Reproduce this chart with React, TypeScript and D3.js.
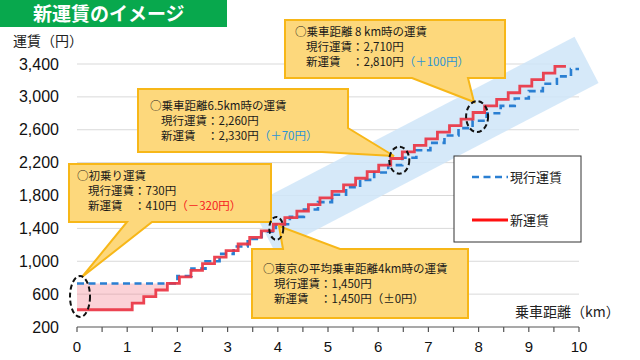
import React from "react";
import * as d3 from "d3";

// axis ticks
const distanceTicks = [0, 1, 2, 3, 4, 5, 6, 7, 8, 9, 10];
const fareTicks = [200, 600, 1000, 1400, 1800, 2200, 2600, 3000, 3400];

// 現行運賃 (step starts, km) and fare after each step
const currentKm = [0, 2.0, 2.28, 2.56, 2.84, 3.12, 3.4, 3.68, 3.96, 4.24, 4.52, 4.8, 5.08, 5.36, 5.64, 5.92, 6.2, 6.48, 6.76, 7.04, 7.32, 7.6, 7.88, 8.16, 8.44, 8.72, 9.0, 9.28, 9.56, 9.84, 10.0];
const currentFare = [730, 820, 910, 1000, 1090, 1180, 1270, 1360, 1450, 1540, 1630, 1720, 1810, 1900, 1990, 2080, 2170, 2260, 2350, 2440, 2530, 2620, 2710, 2800, 2890, 2980, 3070, 3160, 3250, 3340, 3340];

// 新運賃
const newKm = [0, 1.1, 1.33, 1.57, 1.8, 2.04, 2.27, 2.5, 2.74, 2.97, 3.21, 3.44, 3.67, 3.91, 4.14, 4.38, 4.61, 4.84, 5.08, 5.31, 5.55, 5.78, 6.01, 6.25, 6.48, 6.72, 6.95, 7.18, 7.42, 7.65, 7.89, 8.12, 8.36, 8.59, 8.82, 9.06, 9.29, 9.52, 9.74];
const newFare = [410, 490, 570, 650, 730, 810, 890, 970, 1050, 1130, 1210, 1290, 1370, 1450, 1530, 1610, 1690, 1770, 1850, 1930, 2010, 2090, 2170, 2250, 2330, 2410, 2490, 2570, 2650, 2730, 2810, 2890, 2970, 3050, 3130, 3210, 3290, 3370, 3370];

// callouts
const noteTitles = ["○初乗り運賃", "○東京の平均乗車距離4km時の運賃", "○乗車距離6.5km時の運賃", "○乗車距離 8 km時の運賃"];
const noteCurrent = ["730円", "1,450円", "2,260円", "2,710円"];
const noteNew = ["410円", "1,450円", "2,330円", "2,810円"];
const noteDiff = ["（－320円）", "（±0円）", "（＋70円）", "（＋100円）"];
const noteKm = [0.06, 3.97, 6.42, 7.97];
const noteFare = [570, 1400, 2230, 2760];

// trend band (km, fare) of the two ends of its centre line
const bandKm = [3.7, 10.15];
const bandFare = [1400, 3450];

const legendLabels = ["現行運賃", "新運賃"];

const W = 640;
const H = 360;
const JP = "'Noto Sans CJK JP', 'Liberation Sans', sans-serif";
const NUM = "'Liberation Sans', Arial, sans-serif";
const BLUE = "#2a7fd2";
const RED = "#ea3443";
const BOX_FILL = "#fdd87c";
const BOX_STROKE = "#f7b718";

type Box = { x: number; y: number; w: number; h: number; tx: number; ty: number; tail: { side: string; a: number; b: number; tipX: number; tipY: number }; diffColor: string; rx: number; ry: number };

const boxes: Box[] = [
  { x: 69, y: 164, w: 202, h: 58, tx: 8, ty: 16, tail: { side: "bottom", a: 127, b: 152, tipX: 82, tipY: 277 }, diffColor: "#f52020", rx: 10, ry: 20.5 },
  { x: 252, y: 249, w: 216, h: 69, tx: 11, ty: 24, tail: { side: "top", a: 283, b: 340, tipX: 279, tipY: 226 }, diffColor: "#1a1a1a", rx: 7, ry: 11.5 },
  { x: 138, y: 89, w: 210, h: 63, tx: 12, ty: 21, tail: { side: "corner", a: 128, b: 322, tipX: 394, tipY: 156 }, diffColor: "#2b93d6", rx: 10, ry: 13.5 },
  { x: 285, y: 20, w: 220, h: 58, tx: 10, ty: 16, tail: { side: "bottom", a: 412, b: 468, tipX: 474, tipY: 102 }, diffColor: "#2b93d6", rx: 11, ry: 15.5 },
];

function calloutPath(b: Box) {
  const x0 = b.x, y0 = b.y, x1 = b.x + b.w, y1 = b.y + b.h;
  const t = b.tail;
  if (t.side === "top") {
    return `M${x0},${y0}L${t.a},${y0}L${t.tipX},${t.tipY}L${t.b},${y0}L${x1},${y0}L${x1},${y1}L${x0},${y1}Z`;
  }
  if (t.side === "bottom") {
    return `M${x0},${y0}L${x1},${y0}L${x1},${y1}L${t.b},${y1}L${t.tipX},${t.tipY}L${t.a},${y1}L${x0},${y1}Z`;
  }
  // corner: from right edge (y=a) to bottom edge (x=b)
  return `M${x0},${y0}L${x1},${y0}L${x1},${t.a}L${t.tipX},${t.tipY}L${t.b},${y1}L${x0},${y1}Z`;
}

export default function App() {
  const x = d3.scaleLinear().domain([0, 10]).range([77, 579]);
  const y = d3.scaleLinear().domain([200, 3400]).range([327, 64]);

  const current = currentKm.map((k, i) => [k, currentFare[i]] as [number, number]);
  const fresh = newKm.map((k, i) => [k, newFare[i]] as [number, number]);

  const stepLine = d3
    .line<[number, number]>()
    .x((d) => x(d[0]))
    .y((d) => y(d[1]))
    .curve(d3.curveStepAfter);

  // pink area where the new fare is below the current base fare
  const base = currentFare[0];
  const lowPart = fresh.filter((d) => d[1] <= base);
  const gapArea = d3
    .area<[number, number]>()
    .x((d) => x(d[0]))
    .y0(y(base))
    .y1((d) => y(d[1]))
    .curve(d3.curveStepAfter);

  // band polygon
  const bx0 = x(bandKm[0]), by0 = y(bandFare[0]);
  const bx1 = x(bandKm[1]), by1 = y(bandFare[1]);
  const len = Math.hypot(bx1 - bx0, by1 - by0);
  const px = (-(by1 - by0) / len) * 26;
  const py = ((bx1 - bx0) / len) * 26;
  const bandPts = [
    [bx0 - px, by0 - py],
    [bx1 - px, by1 - py],
    [bx1 + px, by1 + py],
    [bx0 + px, by0 + py],
  ]
    .map((p) => p.join(","))
    .join(" ");

  const minorTicks = d3.range(0, 10.01, 0.5);
  const lineGap = 15;

  return (
    <div style={{ position: "absolute", left: 0, top: 0 }}>
      <svg width={W} height={H} style={{ display: "block", background: "#fff" }}>
        {/* title bar */}
        <rect x={0} y={0} width={227} height={27} fill="#08a84d" />
        <text x={33} y={21} fill="#fff" fontFamily={JP} fontWeight="bold" fontSize={19}>
          新運賃のイメージ
        </text>

        {/* y label */}
        <text x={13} y={46} fontFamily={JP} fontSize={14} fill="#222">
          運賃（円）
        </text>

        {/* grid */}
        {fareTicks.slice(1).map((t) => (
          <line key={t} x1={x(0)} x2={x(10)} y1={y(t)} y2={y(t)} stroke="#d9d9d9" strokeWidth={1} />
        ))}

        {/* band */}
        <polygon points={bandPts} fill="#cfe5f8" opacity={0.85} />

        {/* pink gap */}
        <path d={gapArea(lowPart) || ""} fill="#f47d8c" opacity={0.35} />

        {/* y tick labels */}
        {fareTicks.map((t) => (
          <text key={t} x={59} y={y(t) + 5.5} textAnchor="end" fontFamily={NUM} fontSize={16} fill="#111">
            {d3.format(",")(t)}
          </text>
        ))}

        {/* x axis */}
        <line x1={x(0)} x2={x(10)} y1={y(200)} y2={y(200)} stroke="#555" strokeWidth={1.2} />
        {minorTicks.map((t) => (
          <line key={t} x1={x(t)} x2={x(t)} y1={y(200)} y2={y(200) + 5} stroke="#555" strokeWidth={1.2} />
        ))}
        {distanceTicks.map((t) => (
          <text key={t} x={x(t)} y={352} textAnchor="middle" fontFamily={NUM} fontSize={15} fill="#111">
            {t}
          </text>
        ))}
        <text x={515} y={317} fontFamily={JP} fontSize={14} fill="#222">
          乗車距離（km）
        </text>

        {/* series */}
        <path d={stepLine(current) || ""} fill="none" stroke={BLUE} strokeWidth={2.6} strokeDasharray="7,4.5" />
        <path d={stepLine(fresh) || ""} fill="none" stroke={RED} strokeWidth={2.8} opacity={0.92} />

        {/* callouts */}
        {boxes.map((b, i) => (
          <g key={i}>
            <path d={calloutPath(b)} fill={BOX_FILL} stroke={BOX_STROKE} strokeWidth={2} strokeLinejoin="miter" />
            <text x={b.x + b.tx} y={b.y + b.ty} fontFamily={JP} fontSize={11.5} fill="#1a1a1a">
              {noteTitles[i]}
            </text>
            <text x={b.x + b.tx + 11} y={b.y + b.ty + lineGap} fontFamily={JP} fontSize={11.5} fill="#1a1a1a">
              {"現行運賃：" + noteCurrent[i]}
            </text>
            <text x={b.x + b.tx + 11} y={b.y + b.ty + lineGap * 2} fontFamily={JP} fontSize={11.5} fill="#1a1a1a">
              {"新運賃　：" + noteNew[i]}
              <tspan fill={b.diffColor}>{noteDiff[i]}</tspan>
            </text>
          </g>
        ))}

        {/* dashed ellipses */}
        {boxes.map((b, i) => (
          <ellipse
            key={i}
            cx={x(noteKm[i])}
            cy={y(noteFare[i])}
            rx={b.rx}
            ry={b.ry}
            fill="none"
            stroke="#111"
            strokeWidth={2}
            strokeDasharray="5,3"
          />
        ))}

        {/* legend */}
        <rect x={454} y={156} width={127} height={86} fill="#fff" stroke="#333" strokeWidth={1} />
        <line x1={472} x2={508} y1={177} y2={177} stroke={BLUE} strokeWidth={2.6} strokeDasharray="7,4.5" />
        <text x={510} y={182} fontFamily={JP} fontSize={13} fill="#222">
          {legendLabels[0]}
        </text>
        <line x1={472} x2={508} y1={220} y2={220} stroke="#ff1010" strokeWidth={3} />
        <text x={510} y={225} fontFamily={JP} fontSize={13} fill="#222">
          {legendLabels[1]}
        </text>
      </svg>
    </div>
  );
}
